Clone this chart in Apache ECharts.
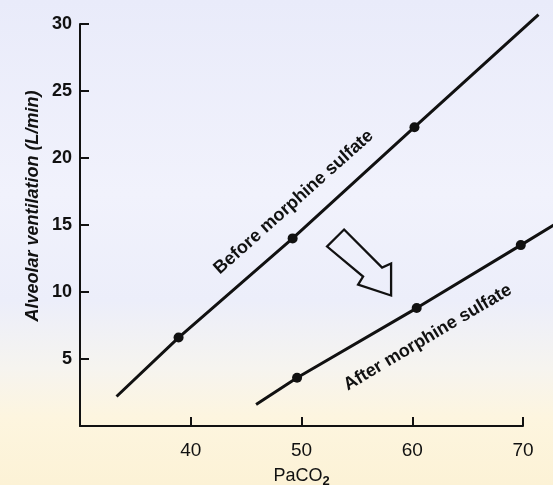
<!DOCTYPE html>
<html>
<head>
<meta charset="utf-8">
<script src="https://cdn.jsdelivr.net/npm/echarts@6/dist/echarts.min.js"></script>
<style>
  html, body { margin: 0; padding: 0; }
  #chart {
    width: 553px; height: 485px;
    background: linear-gradient(180deg, #e9ebfa 0%, #f1f2fc 40%, #eceefa 62%, #f6f4ef 76%, #fdf5df 86%, #fcf2d6 100%);
  }
</style>
</head>
<body>
<div id="chart"></div>
<script>
// ---- data ----
const xTicks = [40, 50, 60, 70];            // PaCO2 tick labels
const yTicks = [5, 10, 15, 20, 25, 30];     // ventilation tick labels
// Before morphine sulfate: line ends + three measured points
const beforeX = [33.3, 38.9, 49.2, 60.2, 71.4];
const beforeY = [2.2, 6.6, 14.0, 22.3, 30.7];
// After morphine sulfate
const afterX = [45.9, 49.6, 60.4, 69.8, 73.0];
const afterY = [1.6, 3.6, 8.8, 13.5, 15.1];
const markedIdx = [1, 2, 3]; // points drawn with a dot
const labels = {
  before: 'Before morphine sulfate',
  after: 'After morphine sulfate',
  xName: 'PaCO',
  xSub: '2',
  yName: 'Alveolar ventilation (L/min)'
};
// annotation anchor positions in data units
const beforeLabelAt = [49.3, 16.7];
const afterLabelAt = [61.4, 6.6];
const arrowAt = [55.2, 12.2];

const W = 553, H = 485;
const G = { left: 80, right: 30, top: 24, bottom: 59 };       // visible axes frame
const G2 = { left: 80, right: 0, top: 0, bottom: 59 };        // drawing area for lines (lines run past the axis ends)
const xMin = 30, xMax = 70, yMin = 0, yMax = 30;
// extend the drawing axes with exactly the same scale as the visible axes
const pxPerX = (W - G.left - G.right) / (xMax - xMin);
const pxPerY = (H - G.top - G.bottom) / (yMax - yMin);
const xMax2 = xMin + (W - G2.left - G2.right) / pxPerX;
const yMax2 = yMin + (H - G2.top - G2.bottom) / pxPerY;

function build(xs, ys) {
  return xs.map((x, i) => ({
    value: [x, ys[i]],
    symbolSize: markedIdx.includes(i) ? 10 : 0
  }));
}

const chart = echarts.init(document.getElementById('chart'), null, { renderer: 'canvas' });
const ink = '#111111';
const ff = 'Liberation Sans, Arial, sans-serif';

chart.setOption({
  backgroundColor: 'transparent',
  animation: false,
  grid: [
    Object.assign({ outerBoundsMode: 'none', containLabel: false }, G),
    Object.assign({ outerBoundsMode: 'none', containLabel: false }, G2)
  ],
  xAxis: [
    {
      gridIndex: 0, type: 'value', min: xMin, max: xMax, interval: 10,
      axisLine: { lineStyle: { color: ink, width: 2 } },
      axisTick: { inside: true, length: 9, lineStyle: { color: ink, width: 2 } },
      splitLine: { show: false },
      axisLabel: {
        margin: 15, color: ink, fontSize: 19, fontFamily: ff,
        showMaxLabel: true, showMinLabel: true,
        formatter: v => xTicks.includes(v) ? String(v) : ''
      },
      name: '{a|' + labels.xName + '}{b|' + labels.xSub + '}',
      nameLocation: 'middle', nameGap: 21,
      nameTextStyle: {
        rich: {
          a: { fontSize: 18, color: ink, fontFamily: ff, lineHeight: 22 },
          b: { fontSize: 13, color: ink, fontFamily: ff, fontWeight: 'bold', lineHeight: 22, padding: [10, 0, 0, 0] }
        }
      }
    },
    { gridIndex: 1, type: 'value', min: xMin, max: xMax2, show: false }
  ],
  yAxis: [
    {
      gridIndex: 0, type: 'value', min: yMin, max: yMax, interval: 5,
      axisLine: { lineStyle: { color: ink, width: 2 } },
      axisTick: { inside: true, length: 9, lineStyle: { color: ink, width: 2 } },
      splitLine: { show: false },
      axisLabel: {
        margin: 8, color: ink, fontSize: 18, fontWeight: 'bold', fontFamily: ff,
        formatter: v => yTicks.includes(v) ? String(v) : ''
      }
    },
    { gridIndex: 1, type: 'value', min: yMin, max: yMax2, show: false }
  ],
  series: [
    {
      name: labels.before, type: 'line', xAxisIndex: 1, yAxisIndex: 1,
      data: build(beforeX, beforeY),
      symbol: 'circle', showAllSymbol: true,
      lineStyle: { color: ink, width: 3 }, itemStyle: { color: ink }
    },
    {
      name: labels.after, type: 'line', xAxisIndex: 1, yAxisIndex: 1,
      data: build(afterX, afterY),
      symbol: 'circle', showAllSymbol: true,
      lineStyle: { color: ink, width: 3 }, itemStyle: { color: ink }
    }
  ]
});

// annotations placed from data coordinates
function px(p) { return chart.convertToPixel({ xAxisIndex: 1, yAxisIndex: 1 }, p); }
function angleOf(xs, ys) {
  const a = px([xs[1], ys[1]]), b = px([xs[3], ys[3]]);
  return Math.atan2(a[1] - b[1], b[0] - a[0]);
}
const bPos = px(beforeLabelAt), aPos = px(afterLabelAt), arr = px(arrowAt);
const fontAnno = 'bold 18px "Liberation Sans", Arial, sans-serif';

// hollow block arrow, shape relative to anchor
const arrowShape = [[-15, -33], [23, 5], [32, 1], [32, 33], [-1, 22], [4, 14], [-32, -16]];

chart.setOption({
  graphic: [
    {
      type: 'text', x: bPos[0], y: bPos[1], rotation: angleOf(beforeX, beforeY),
      style: { text: labels.before, font: fontAnno, fill: ink, align: 'center', verticalAlign: 'middle' }
    },
    {
      type: 'text', x: aPos[0], y: aPos[1], rotation: angleOf(afterX, afterY),
      style: { text: labels.after, font: fontAnno, fill: ink, align: 'center', verticalAlign: 'middle' }
    },
    {
      type: 'polygon', x: arr[0], y: arr[1],
      shape: { points: arrowShape },
      style: { fill: 'none', stroke: ink, lineWidth: 2.3, lineJoin: 'miter' }
    },
    {
      type: 'text', x: 33, y: 206, rotation: Math.PI / 2,
      style: { text: labels.yName, font: 'italic bold 18px "Liberation Sans", Arial, sans-serif', fill: ink, align: 'center', verticalAlign: 'middle' }
    }
  ]
});
</script>
</body>
</html>
